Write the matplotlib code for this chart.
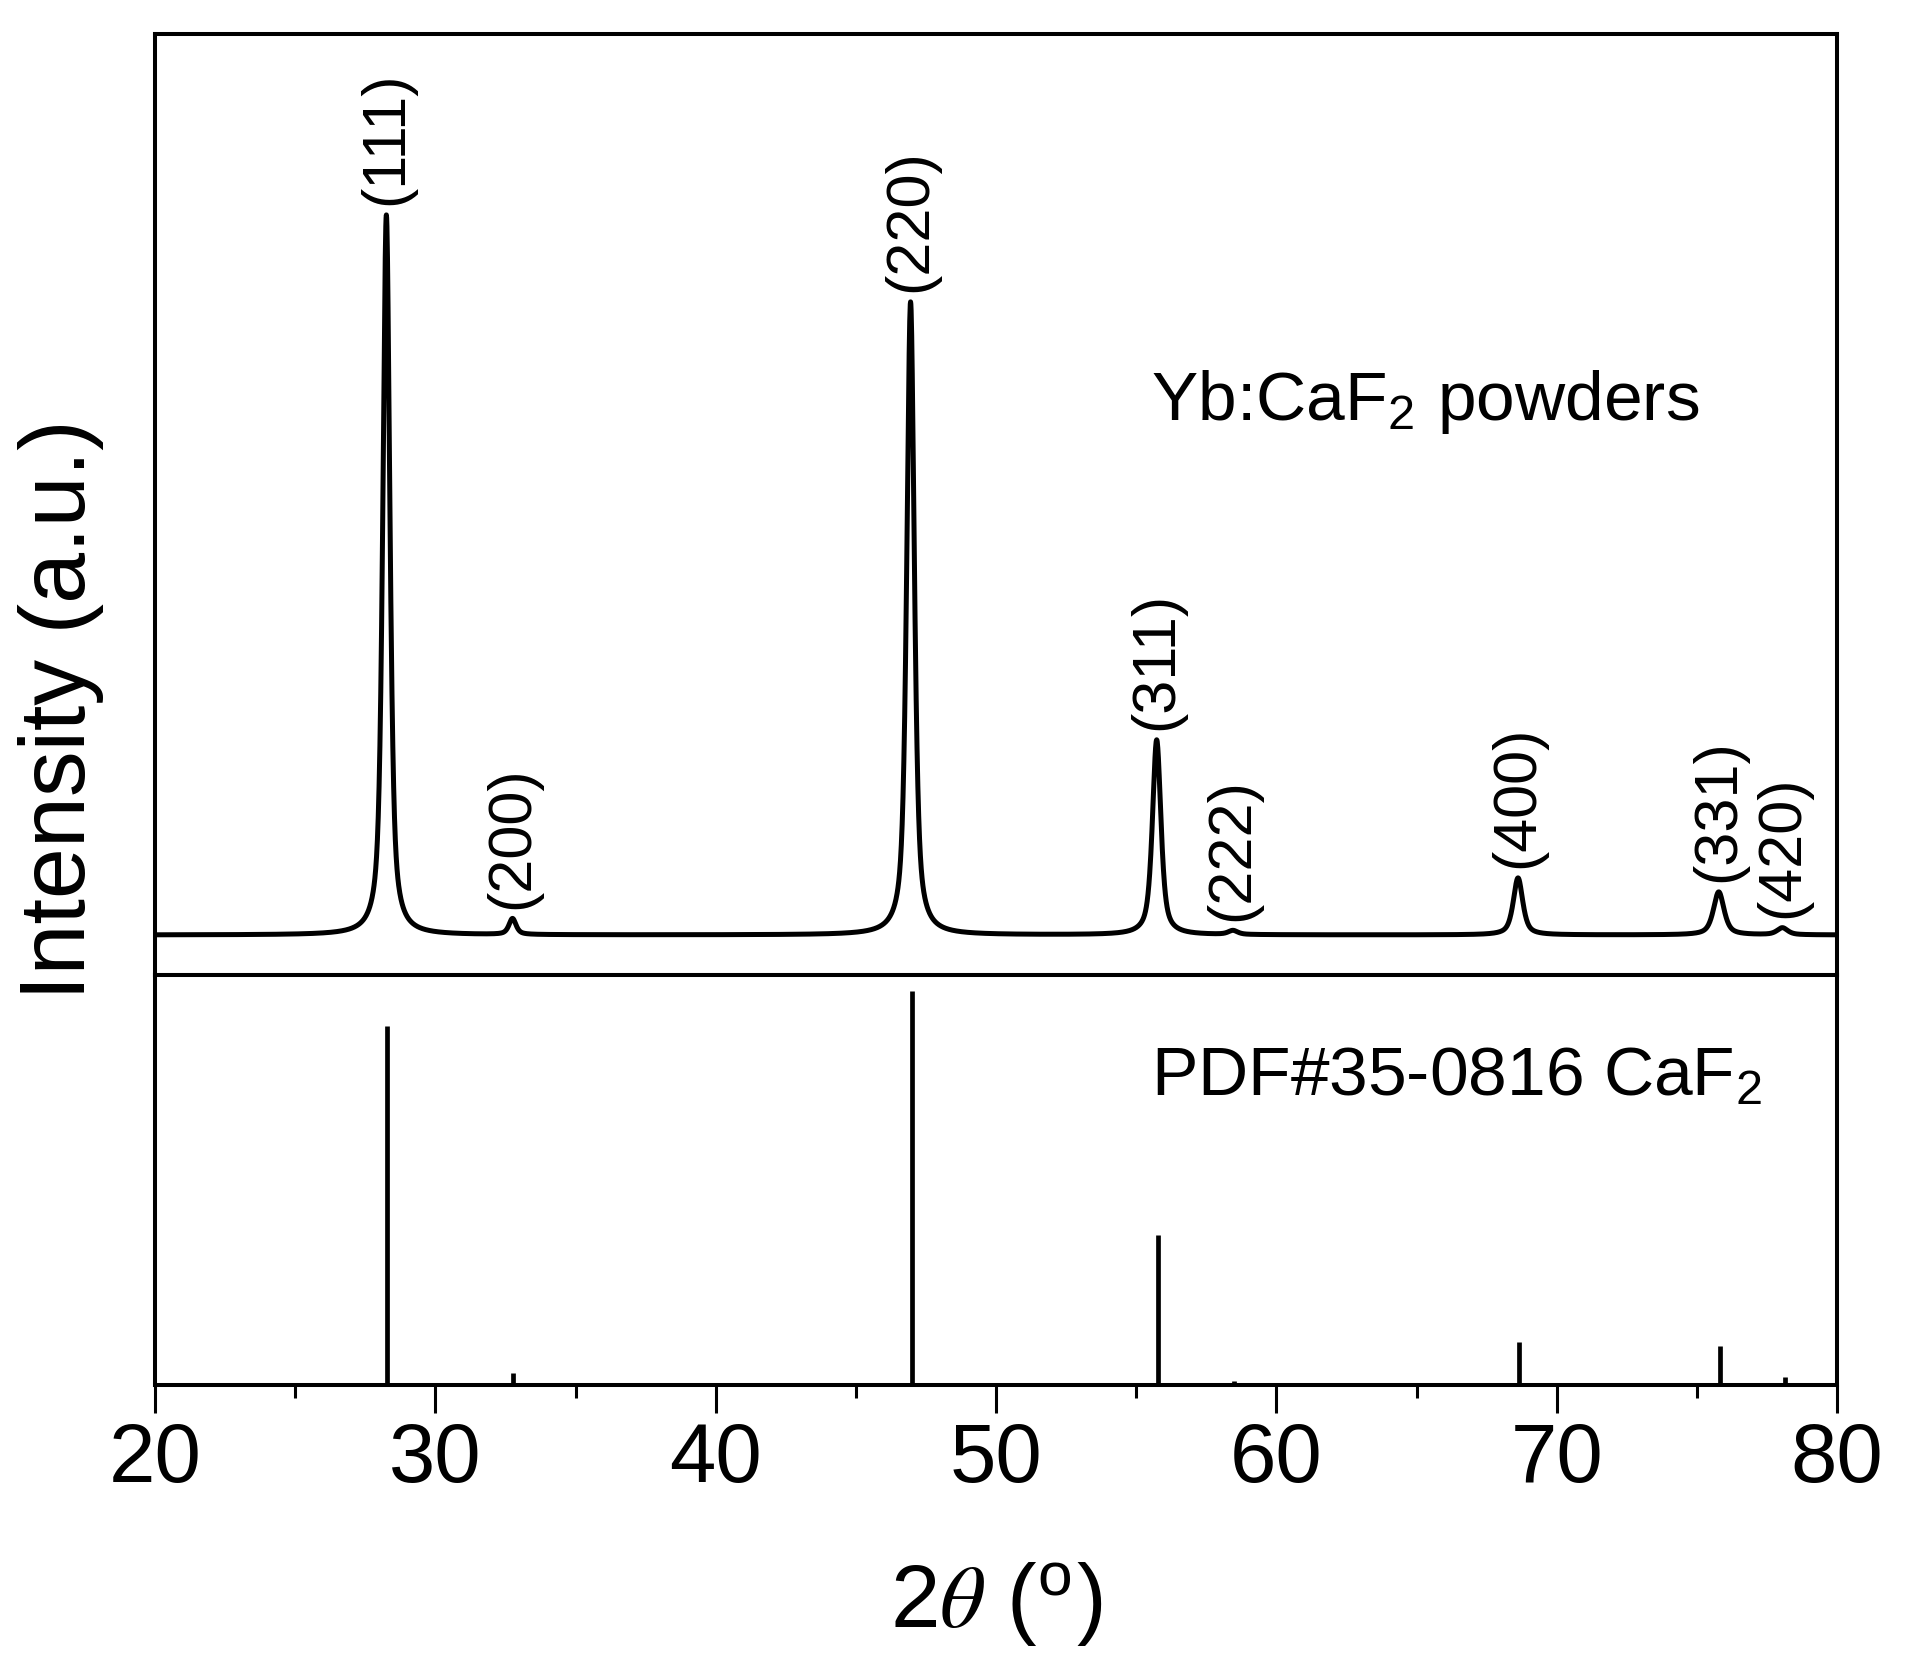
# XRD pattern of Yb:CaF2 powders with PDF#35-0816 reference sticks

import matplotlib.pyplot as plt
import numpy as np
from matplotlib.ticker import MultipleLocator

plt.rcParams['font.family'] = ['Liberation Sans', 'DejaVu Sans']
plt.rcParams['mathtext.fontset'] = 'custom'
plt.rcParams['mathtext.rm'] = 'Liberation Sans'
plt.rcParams['mathtext.it'] = 'STIXGeneral:italic'

hkl = ['(111)', '(200)', '(220)', '(311)', '(222)', '(400)', '(331)', '(420)']
peak_pos = [28.25, 32.75, 46.95, 55.73, 58.45, 68.62, 75.78, 78.05]
peak_height = [7200, 160, 6330, 1950, 40, 570, 430, 70]
peak_fwhm = [0.30, 0.30, 0.32, 0.36, 0.40, 0.40, 0.45, 0.45]
baseline = 350

# Reference card PDF#35-0816 CaF2
ref_pos = [28.27, 32.77, 47.00, 55.76, 58.48, 68.67, 75.84, 78.16]
ref_int = [91, 3, 100, 38, 1, 11, 10, 2]

# Build the pattern from the pseudo-Voigt peak profiles
tt = np.linspace(20, 80, 6001)
y = np.full_like(tt, baseline, dtype=float)
eta = 0.65
for p, h, w in zip(peak_pos, peak_height, peak_fwhm):
    lor = 1 / (1 + ((tt - p) / (w / 2)) ** 2)
    gau = np.exp(-np.log(2) * ((tt - p) / (w / 2)) ** 2)
    y += h * (eta * lor + (1 - eta) * gau)

fig, (ax1, ax2) = plt.subplots(2, 1, figsize=(19.1, 16.8), dpi=100, sharex=True,
                               gridspec_kw={'height_ratios': [941, 410], 'hspace': 0})
fig.subplots_adjust(left=0.0812, right=0.9618, top=0.9798, bottom=0.1756)

ax1.plot(tt, y, color='black', linewidth=3.6)
ax1.set_ylim(baseline - 400, baseline + 9010)
ax1.set_yticks([])
ax1.tick_params(axis='x', which='both', bottom=False, labelbottom=False)

# hkl labels just above each peak
for lab, p, h in zip(hkl, peak_pos, peak_height):
    ax1.annotate(lab, xy=(p, baseline + h), xytext=(0, 7), textcoords='offset points',
                 rotation=90, ha='center', va='bottom', fontsize=44)

ax1.text(0.592, 0.609, 'Yb:CaF$_2$ powders', transform=ax1.transAxes,
         fontsize=50, ha='left', va='center')

ax2.vlines(ref_pos, 0, ref_int, color='black', linewidth=3.4)
ax2.set_ylim(0, 104)
ax2.set_yticks([])
ax2.set_xlim(20, 80)
ax2.xaxis.set_major_locator(MultipleLocator(10))
ax2.xaxis.set_minor_locator(MultipleLocator(5))
ax2.tick_params(axis='x', which='major', direction='out', length=20, width=2.2,
                labelsize=60, pad=6)
ax2.tick_params(axis='x', which='minor', direction='out', length=9.5, width=2.2)
ax2.text(0.592, 0.749, 'PDF#35-0816 CaF$_2$', transform=ax2.transAxes,
         fontsize=50, ha='left', va='center')
ax2.set_xlabel(r'2$\theta$ ($^{\rm o}$)', fontsize=64, labelpad=44)

for ax in (ax1, ax2):
    for s in ax.spines.values():
        s.set_linewidth(2.9)

fig.text(0.032, (0.9798 + 0.1756) / 2, 'Intensity (a.u.)', rotation=90,
         ha='center', va='center', fontsize=66)

plt.savefig('out.png', dpi=100)
plt.close()
